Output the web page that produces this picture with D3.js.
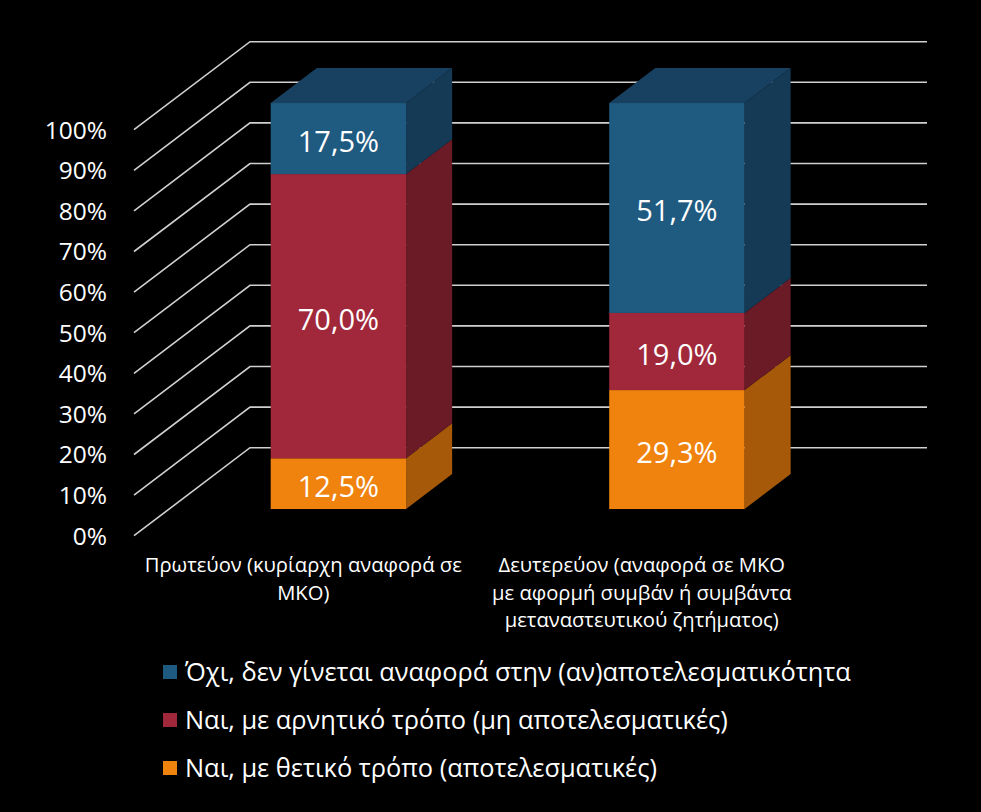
<!DOCTYPE html>
<html>
<head>
<meta charset="utf-8">
<script src="https://cdn.jsdelivr.net/npm/d3@7"></script>
<style>
  html, body { margin: 0; padding: 0; background: #000; }
  svg { display: block; }
  text { font-family: "Open Sans", "Noto Sans", sans-serif; fill: #fff; }
</style>
</head>
<body>
<svg id="chart" width="981" height="812"></svg>
<script>
// ---- data ----
const categories = [
  "Πρωτεύον (κυρίαρχη αναφορά σε ΜΚΟ)",
  "Δευτερεύον (αναφορά σε ΜΚΟ με αφορμή συμβάν ή συμβάντα μεταναστευτικού ζητήματος)"
];
const categoryLines = [
  ["Πρωτεύον (κυρίαρχη αναφορά σε", "ΜΚΟ)"],
  ["Δευτερεύον (αναφορά σε ΜΚΟ", "με αφορμή συμβάν ή συμβάντα", "μεταναστευτικού ζητήματος)"]
];
const seriesNames = [
  "Ναι, με θετικό τρόπο (αποτελεσματικές)",
  "Ναι, με αρνητικό τρόπο (μη αποτελεσματικές)",
  "Όχι, δεν γίνεται αναφορά στην (αν)αποτελεσματικότητα"
];
const positiveValues = [12.5, 29.3];
const negativeValues = [70.0, 19.0];
const noneValues = [17.5, 51.7];
const tickValues = [0, 10, 20, 30, 40, 50, 60, 70, 80, 90, 100];

// ---- styles ----
const frontColors = ["#f0820e", "#a0283a", "#1f5a80"];
const sideColors  = ["#a65a09", "#6a1b26", "#143a56"];
const topColors   = ["#b8650a", "#7a1f2c", "#184060"];

const svg = d3.select("#chart");
const locale = d3.formatLocale({decimal: ",", thousands: ".", grouping: [3], currency: ["", "€"]});
const fmt = v => locale.format(".1f")(v) + "%";

// 3D projection
const DX = 116, DY = 88;       // full depth offset
const zFront = 0.303, zBack = 0.70; // bar depth range

const y = d3.scaleLinear().domain([0, 100]).range([535.7, 129.7]);
const x = d3.scaleBand().domain(categories).range([134, 811])
  .paddingInner(0.6).paddingOuter(0.3);

const P = (px, v, z) => [px + z * DX, y(v) - z * DY];

// gridlines
const grid = svg.append("g");
tickValues.forEach(t => {
  const a = P(134, t, 0), b = P(134, t, 1), c = [927, b[1]];
  grid.append("path")
    .attr("d", d3.line()([a, b, c]))
    .attr("fill", "none")
    .attr("stroke", "#d0d0d0")
    .attr("stroke-width", 1.6);
});

// y labels
svg.append("g").selectAll("text").data(tickValues).join("text")
  .attr("x", 107)
  .attr("y", d => y(d))
  .attr("dy", "0.36em")
  .attr("text-anchor", "end")
  .attr("font-size", 24.5)
  .text(d => d + "%");

// stacked data
const seriesVals = [positiveValues, negativeValues, noneValues];
const bars = svg.append("g");
categories.forEach((cat, ci) => {
  const x0 = x(cat), x1 = x(cat) + x.bandwidth();
  let acc = 0;
  const segs = seriesVals.map((arr, si) => {
    const s = {si, v0: acc, v1: acc + arr[ci], val: arr[ci]};
    acc += arr[ci];
    return s;
  });
  segs.forEach((s, k) => {
    const side = [P(x1, s.v0, zFront), P(x1, s.v0, zBack), P(x1, s.v1, zBack), P(x1, s.v1, zFront)];
    bars.append("path").attr("d", d3.line()(side) + "Z").attr("fill", sideColors[s.si]);
    const f0 = P(x0, s.v1, zFront), f1 = P(x1, s.v0, zFront);
    bars.append("rect")
      .attr("x", f0[0]).attr("y", f0[1])
      .attr("width", f1[0] - f0[0]).attr("height", f1[1] - f0[1])
      .attr("fill", frontColors[s.si]);
    if (k === segs.length - 1) {
      const top = [P(x0, s.v1, zFront), P(x0, s.v1, zBack), P(x1, s.v1, zBack), P(x1, s.v1, zFront)];
      bars.append("path").attr("d", d3.line()(top) + "Z").attr("fill", topColors[s.si]);
    }
    const cy = (P(x0, s.v0, zFront)[1] + P(x0, s.v1, zFront)[1]) / 2;
    bars.append("text")
      .attr("x", (f0[0] + f1[0]) / 2)
      .attr("y", cy + 3)
      .attr("dy", "0.36em")
      .attr("text-anchor", "middle")
      .attr("font-size", 29)
      .text(fmt(s.val));
  });
});

// category labels
const catG = svg.append("g");
categories.forEach((cat, ci) => {
  const t = catG.append("text")
    .attr("x", x(cat) + x.bandwidth() / 2)
    .attr("y", 572)
    .attr("text-anchor", "middle")
    .attr("font-size", 20.2);
  categoryLines[ci].forEach((ln, li) => {
    t.append("tspan")
      .attr("x", x(cat) + x.bandwidth() / 2)
      .attr("y", 572 + li * 27.5)
      .text(ln);
  });
});

// legend (top to bottom: none, negative, positive)
const legendOrder = [2, 1, 0];
const lg = svg.append("g");
legendOrder.forEach((si, i) => {
  const cy = 672 + i * 48;
  lg.append("rect").attr("x", 163).attr("y", cy - 7).attr("width", 14).attr("height", 14)
    .attr("fill", frontColors[si]);
  lg.append("text").attr("x", 185).attr("y", cy).attr("dy", "0.36em")
    .attr("font-size", 25.4).text(seriesNames[si]);
});
</script>
</body>
</html>
